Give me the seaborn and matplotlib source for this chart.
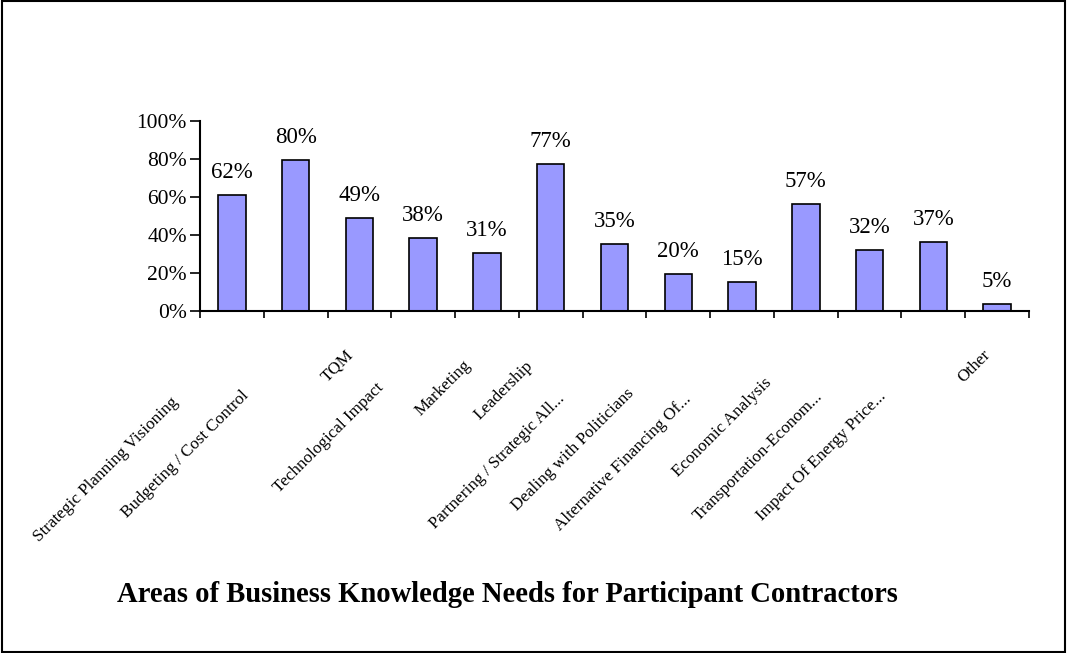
import matplotlib
matplotlib.use('Agg')
import numpy as np
import pandas as pd
import matplotlib.pyplot as plt
import matplotlib.transforms as mtransforms
from matplotlib.patches import Rectangle
from matplotlib.ticker import FuncFormatter
import seaborn as sns

# chart data
areas = ['Strategic Planning Visioning', 'Budgeting / Cost Control', 'TQM',
         'Technological Impact', 'Marketing', 'Leadership',
         'Partnering / Strategic All...', 'Dealing with Politicians',
         'Alternative Financing Of...', 'Economic Analysis',
         'Transportation-Econom...', 'Impact Of Energy Price...', 'Other']
shares = [61, 79.5, 49, 38.5, 30.5, 77.5, 35.5, 19.7, 15.5, 56.5, 32.3, 36.5, 3.9]
share_labels = ['62%', '80%', '49%', '38%', '31%', '77%', '35%', '20%',
                '15%', '57%', '32%', '37%', '5%']
y_ticks = [0, 20, 40, 60, 80, 100]
title = 'Areas of Business Knowledge Needs for Participant Contractors'

sns.set_theme(style='white')
plt.rcParams['font.family'] = ['Liberation Serif', 'DejaVu Serif']
plt.rcParams['text.color'] = 'black'

fig = plt.figure(figsize=(10.67, 6.53), dpi=100)
ax = fig.add_axes([0.1874, 0.5237, 0.777, 0.2910])

df = pd.DataFrame({'area': areas, 'share': shares})
sns.barplot(data=df, x='area', y='share', color='#9999FF', saturation=1,
            edgecolor='black', linewidth=1.2, width=0.43, ax=ax)

ax.set_ylim(0, 100)
ax.set_xlim(-0.5, len(areas) - 0.5)
ax.set_yticks(y_ticks)
ax.yaxis.set_major_formatter(FuncFormatter(lambda v, _: f'{v:.0f}%'))
ax.tick_params(axis='y', length=7.5, width=1.2, pad=2, labelsize=15.5,
               colors='black', left=True)
ax.set_xticks(np.arange(len(areas)))
ax.set_xticklabels([''] * len(areas))
ax.set_xticks(np.arange(-0.5, len(areas)), minor=True)
ax.tick_params(axis='x', which='major', length=0)
ax.tick_params(axis='x', which='minor', length=5, width=1.2, color='black',
               bottom=True)
ax.set_xlabel('')
ax.set_ylabel('')
for side in ['top', 'right']:
    ax.spines[side].set_visible(False)
for side in ['left', 'bottom']:
    ax.spines[side].set_color('black')
    ax.spines[side].set_linewidth(1.5)

# value labels above the bars
for p, lab in zip(ax.patches, share_labels):
    ax.annotate(lab, (p.get_x() + p.get_width() / 2, p.get_height()),
                xytext=(0, 12), textcoords='offset points',
                ha='center', va='baseline', fontsize=16.5, color='black')

# slanted category labels, staggered like the old Excel layout
xlabels = [ax.text(i, 0, name, fontsize=12.3, color='black',
                   transform=ax.get_xaxis_transform())
           for i, name in enumerate(areas)]
fig.canvas.draw()
r = fig.canvas.get_renderer()
for t in xlabels:
    w = t.get_window_extent(r).width
    shift = 0.3 * w
    off = mtransforms.ScaledTranslation(-(shift - 3) / fig.dpi,
                                        -(30 + shift) / fig.dpi,
                                        fig.dpi_scale_trans)
    t.set_transform(ax.get_xaxis_transform() + off)
    t.set(rotation=45, rotation_mode='anchor', ha='right', va='center')

fig.text(507 / 1067, 1 - 595 / 653, title, ha='center', va='center',
         fontsize=20.6, fontweight='bold', color='black')

fig.add_artist(Rectangle((0.0015, 0.002), 0.997, 0.996, transform=fig.transFigure,
                         fill=False, lw=1.5, ec='black'))

fig.savefig('out.png', dpi=100)
